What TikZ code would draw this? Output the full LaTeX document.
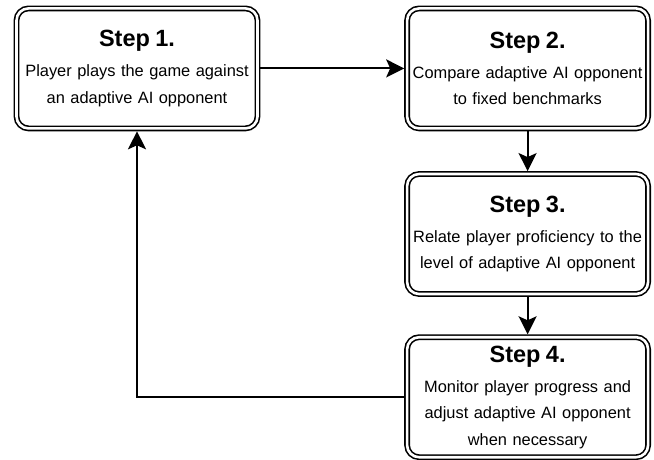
\documentclass[tikz,border=0pt]{standalone}
\usepackage{fontspec}
\setmainfont{Liberation Sans}
\usetikzlibrary{arrows.meta}
\begin{document}
\begin{tikzpicture}[x=1pt,y=-1pt,
  stepbox/.style={draw, double, line width=1.6pt, double distance=2.6pt,
    rounded corners=12pt, minimum width=241pt, minimum height=120pt,
    inner sep=0pt, outer sep=2.9pt, text width=238pt, align=center,
    font=\fontsize{16.4}{26.5}\selectfont},
  conn/.style={line width=2.1pt, -{Stealth[length=18pt,width=18pt,inset=4pt]}}]
\useasboundingbox (0,0) rectangle (654,459);
\newcommand{\sttl}[1]{{\fontsize{23.5}{30}\selectfont\bfseries #1}\\[3.5pt]}
\node[stepbox] (s1) at (137,68.4) {\sttl{Step 1.}Player plays the game against\\an adaptive AI opponent};
\node[stepbox] (s2) at (527.6,68.4) {\sttl{Step 2.}Compare adaptive AI opponent\\to fixed benchmarks};
\node[stepbox] (s3) at (527.6,234) {\sttl{Step 3.}Relate player proficiency to the\\level of adaptive AI opponent};
\node[stepbox] (s4) at (527.6,397.2) {\sttl{Step 4.}Monitor player progress and\\adjust adaptive AI opponent\\when necessary};
\draw[conn] (s1.east) -- (s2.west);
\draw[conn] (s2.south) -- (s3.north);
\draw[conn] (s3.south) -- (s4.north);
\draw[conn] (s4.west) -| (s1.south);
\end{tikzpicture}
\end{document}
